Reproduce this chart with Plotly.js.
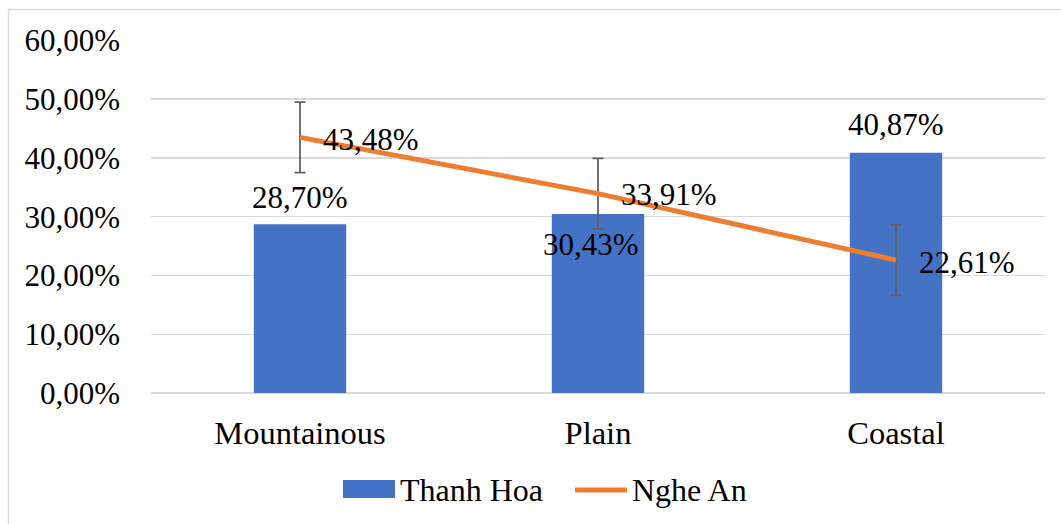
<!DOCTYPE html>
<html>
<head>
<meta charset="utf-8">
<script src="https://cdn.plot.ly/plotly-3.0.1.min.js"></script>
<style>
html,body{margin:0;padding:0;background:#fff;}
#chart{width:1061px;height:524px;}
</style>
</head>
<body>
<div id="chart"></div>
<script>
const categories = ["Mountainous", "Plain", "Coastal"];
const thanhHoa = [28.70, 30.43, 40.87];
const ngheAn = [43.48, 33.91, 22.61];
const ngheAnError = [6, 6, 6];
const yTicks = [0, 10, 20, 30, 40, 50, 60];
const seriesNames = ["Thanh Hoa", "Nghe An"];

const fmt = v => v.toFixed(2).replace('.', ',') + '%';
const FONT = "Liberation Serif";
const BLUE = '#4472C4', ORANGE = '#ED7D31';

// plot area in pixels (for converting legend placement to paper coords)
const L = 151, R = 1045, T = 40, B = 393;
const px = X => (X - L) / (R - L);
const py = Y => (B - Y) / (B - T);

const traces = [
  {
    type: 'bar', name: seriesNames[0], x: categories, y: thanhHoa,
    marker: {color: BLUE}, hoverinfo: 'skip', showlegend: false
  },
  {
    type: 'scatter', mode: 'lines', name: seriesNames[1], x: categories, y: ngheAn,
    line: {color: ORANGE, width: 5},
    error_y: {type: 'data', array: ngheAnError, visible: true, color: '#626262', thickness: 1.8, width: 5.5},
    hoverinfo: 'skip', showlegend: false
  }
];

const barLabelShift = [27, -30, 28];
const barLabelX = [0, -7, 0];
const lineLabelShift = [-2, -1, -2];
const annotations = [];
categories.forEach((c, i) => {
  annotations.push({
    x: c, y: thanhHoa[i], xref: 'x', yref: 'y', text: fmt(thanhHoa[i]),
    showarrow: false, xanchor: 'center', yanchor: 'middle',
    yshift: barLabelShift[i], xshift: barLabelX[i],
    font: {family: FONT, size: 31, color: '#000'}
  });
  annotations.push({
    x: c, y: ngheAn[i], xref: 'x', yref: 'y', text: fmt(ngheAn[i]),
    showarrow: false, xanchor: 'left', yanchor: 'middle',
    xshift: 21, yshift: lineLabelShift[i],
    font: {family: FONT, size: 31, color: '#000'}
  });
});
// legend text
annotations.push({
  xref: 'paper', yref: 'paper', x: px(398), y: py(490), text: seriesNames[0],
  showarrow: false, xanchor: 'left', yanchor: 'middle',
  font: {family: FONT, size: 32, color: '#000'}
});
annotations.push({
  xref: 'paper', yref: 'paper', x: px(630), y: py(490), text: seriesNames[1],
  showarrow: false, xanchor: 'left', yanchor: 'middle',
  font: {family: FONT, size: 32, color: '#000'}
});

const layout = {
  width: 1061, height: 524,
  margin: {l: L, r: 1061 - R, t: T, b: 524 - B},
  paper_bgcolor: '#fff', plot_bgcolor: '#fff',
  font: {family: FONT, size: 31, color: '#000'},
  bargap: 0.69,
  showlegend: false,
  xaxis: {
    type: 'category', showgrid: false, zeroline: false, automargin: false,
    showline: false, ticks: '', ticklabelstandoff: 17,
    tickfont: {family: FONT, size: 32.5, color: '#000'},
    range: [-0.5, 2.5]
  },
  yaxis: {
    range: [0, 60.05], tickvals: yTicks, ticktext: yTicks.map(fmt), automargin: false,
    showgrid: true, gridcolor: '#d9d9d9', gridwidth: 1.3,
    zeroline: true, zerolinecolor: '#d9d9d9', zerolinewidth: 1.3,
    showline: false, ticks: '', ticklabelstandoff: 30,
    tickfont: {family: FONT, size: 31, color: '#000'}
  },
  annotations: annotations,
  shapes: [
    {
      type: 'rect', xref: 'paper', yref: 'paper',
      x0: px(8.5), x1: 1.2, y0: -0.6, y1: py(9.5),
      line: {color: '#d9d9d9', width: 1.5}, fillcolor: 'rgba(0,0,0,0)', layer: 'below'
    },
    {
      type: 'rect', xref: 'paper', yref: 'paper',
      x0: px(343), x1: px(395), y0: py(498), y1: py(480),
      line: {width: 0}, fillcolor: BLUE
    },
    {
      type: 'line', xref: 'paper', yref: 'paper',
      x0: px(575), x1: px(627), y0: py(490), y1: py(490),
      line: {color: ORANGE, width: 5}
    }
  ]
};

Plotly.newPlot('chart', traces, layout, {displayModeBar: false, staticPlot: true});
</script>
</body>
</html>
